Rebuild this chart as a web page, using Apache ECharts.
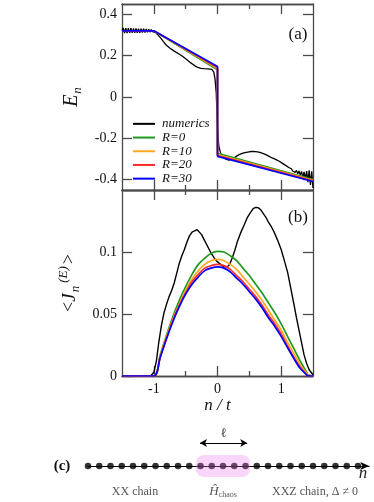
<!DOCTYPE html>
<html>
<head>
<meta charset="utf-8">
<script src="https://cdn.jsdelivr.net/npm/echarts@6/dist/echarts.min.js"></script>
<style>
  html, body { margin: 0; padding: 0; background: #fff; }
  #chart { width: 374px; height: 502px; }
</style>
</head>
<body>
<div id="chart"></div>
<script>
  // (a) energy profile E_n, numerics
  var xNumA = [-1.5, -1.48, -1.46, -1.44, -1.42, -1.4, -1.38, -1.36, -1.34, -1.32, -1.3, -1.28, -1.26,
    -1.24, -1.22, -1.2, -1.18, -1.16, -1.14, -1.12, -1.1, -1.08, -1.06, -1.04, -1.02, -1.0,
    -0.97, -0.93, -0.89, -0.85, -0.81, -0.75, -0.68, -0.61, -0.55, -0.48, -0.42, -0.36, -0.31,
    -0.26, -0.21, -0.18, -0.15, -0.12, -0.09, -0.06, -0.04, -0.02, 0.0, 0.02, 0.04, 0.06, 0.08,
    0.1, 0.12, 0.14, 0.16, 0.18, 0.21, 0.26, 0.3, 0.34, 0.4, 0.45, 0.5, 0.55, 0.6, 0.65, 0.7,
    0.76, 0.81, 0.86, 0.92, 0.97, 1.02, 1.07, 1.12, 1.16, 1.18, 1.2, 1.22, 1.24, 1.26, 1.28,
    1.3, 1.32, 1.34, 1.36, 1.38, 1.4, 1.42, 1.44, 1.46, 1.48, 1.5]
  var eNum = [0.322, 0.334, 0.309, 0.333, 0.309, 0.333, 0.31, 0.333, 0.31, 0.332, 0.31, 0.332, 0.311,
    0.331, 0.311, 0.331, 0.312, 0.33, 0.312, 0.329, 0.313, 0.328, 0.314, 0.326, 0.316, 0.32,
    0.312, 0.298, 0.285, 0.268, 0.253, 0.237, 0.222, 0.209, 0.197, 0.18, 0.165, 0.152, 0.143,
    0.139, 0.137, 0.14, 0.136, 0.141, 0.134, 0.122, 0.09, 0.02, -0.15, -0.235, -0.262, -0.28, -0.288,
    -0.295, -0.29, -0.302, -0.296, -0.305, -0.298, -0.295, -0.286, -0.279, -0.272, -0.268, -0.265,
    -0.263, -0.264, -0.267, -0.272, -0.279, -0.287, -0.295, -0.303, -0.311, -0.321, -0.331, -0.341,
    -0.347, -0.358, -0.35, -0.365, -0.355, -0.372, -0.358, -0.378, -0.36, -0.388, -0.362, -0.398,
    -0.358, -0.412, -0.355, -0.425, -0.36, -0.44]

  // (a) model curves
  var xModelA = [-1.5, -1.0, 0.0, 0.0, 1.5]
  var eR0 = [0.32, 0.32, 0.132, -0.272, -0.4]
  var eR10 = [0.32, 0.32, 0.138, -0.278, -0.403]
  var eR20 = [0.32, 0.32, 0.143, -0.283, -0.406]
  var eR30 = [0.32, 0.32, 0.148, -0.287, -0.409]

  // (b) energy current <J_n^(E)>, numerics
  var xNumB = [-1.5, -1.05, -1.0, -0.96, -0.92, -0.88, -0.84, -0.8, -0.76, -0.72, -0.68, -0.64, -0.6,
    -0.56, -0.52, -0.48, -0.44, -0.4, -0.36, -0.32, -0.29, -0.25, -0.2, -0.15, -0.1, -0.05, 0.0,
    0.05, 0.1, 0.15, 0.19, 0.23, 0.27, 0.31, 0.36, 0.42, 0.47, 0.52, 0.56, 0.6, 0.64, 0.68, 0.72,
    0.76, 0.8, 0.85, 0.89, 0.94, 1.0, 1.05, 1.1, 1.15, 1.2, 1.24, 1.28, 1.32, 1.36, 1.4, 1.44, 1.47, 1.5]
  var jNum = [0, 0, 0.003, 0.012, 0.028, 0.041, 0.051, 0.058, 0.064, 0.069, 0.075, 0.083, 0.091,
    0.097, 0.102, 0.108, 0.113, 0.116, 0.117, 0.118, 0.117, 0.114, 0.109, 0.104, 0.099, 0.095, 0.092,
    0.09, 0.088, 0.088, 0.09, 0.095, 0.101, 0.108, 0.115, 0.122, 0.128, 0.132, 0.135, 0.136, 0.1357, 0.134, 0.131,
    0.128, 0.124, 0.12, 0.116, 0.11, 0.102, 0.093, 0.084, 0.071, 0.058, 0.047, 0.037, 0.027, 0.017, 0.01, 0.005, 0.003, 0.001]

  // (b) model curves
  var xModelB = [-1.5, -1.0, -0.9, -0.8, -0.7, -0.6, -0.5, -0.4, -0.3, -0.2, -0.1, 0.0, 0.1, 0.2,
    0.3, 0.4, 0.5, 0.6, 0.7, 0.8, 0.9, 1.0, 1.1, 1.2, 1.3, 1.4, 1.42, 1.5]
  var jR0 = [0, 0, 0.017, 0.033, 0.048, 0.061, 0.072, 0.082, 0.09, 0.095, 0.099, 0.1005, 0.1, 0.097,
    0.093, 0.087, 0.081, 0.074, 0.067, 0.059, 0.051, 0.042, 0.032, 0.022, 0.012, 0.003, 0.001, 0]
  var jR10 = [0, 0, 0.016, 0.032, 0.046, 0.058, 0.069, 0.078, 0.085, 0.09, 0.093, 0.094, 0.093, 0.09,
    0.086, 0.08, 0.074, 0.068, 0.061, 0.053, 0.045, 0.037, 0.027, 0.018, 0.009, 0.002, 0.0005, 0]
  var jR20 = [0, 0, 0.015, 0.031, 0.045, 0.057, 0.067, 0.076, 0.082, 0.087, 0.089, 0.09, 0.089, 0.086,
    0.081, 0.076, 0.07, 0.064, 0.057, 0.049, 0.042, 0.034, 0.024, 0.015, 0.007, 0.001, 0, 0]
  var jR30 = [0, 0, 0.015, 0.03, 0.044, 0.056, 0.066, 0.074, 0.08, 0.085, 0.087, 0.088, 0.087, 0.084,
    0.079, 0.074, 0.068, 0.062, 0.055, 0.047, 0.04, 0.032, 0.023, 0.014, 0.006, 0.001, 0, 0]

  var seriesNames = ['numerics', 'R=0', 'R=10', 'R=20', 'R=30']
  var seriesColors = ['#000000', '#1f9a1f', '#ffa820', '#ff2a2a', '#0000ff']

  // ticks
  var xTicksMajor = [-1, 0, 1]
  var xTicksMinor = [-0.5, 0.5]
  var yTicksA = [-0.4, -0.2, 0, 0.2, 0.4]
  var yTicksB = [0, 0.05, 0.1]

  // (c) chain sketch: site index, chaotic block, arrow for l
  var sites = [0, 1, 2, 3, 4, 5, 6, 7, 8, 9, 10, 11, 12, 13, 14, 15, 16, 17, 18, 19, 20, 21, 22, 23, 24]
  var chaosBlock = [9.6, 14.4]
  var ellSpan = [9.95, 14.15]

  var serif = 'Liberation Serif'
  var frame = '#4a4a4a'

  function zip (xs, ys) {
    return xs.map(function (x, i) { return [x, ys[i]] })
  }

  function xAxisFor (grid, pos, ticks, len, label) {
    return {
      type: 'value', gridIndex: grid, position: pos, min: -1.5, max: 1.5,
      axisLine: { show: true, onZero: false, lineStyle: { color: frame, width: 1.3 } },
      axisTick: { show: true, inside: true, length: len, customValues: ticks, lineStyle: { color: frame, width: 1.3 } },
      axisLabel: label ? {
        show: true, customValues: ticks, margin: 6, color: '#111',
        fontFamily: serif, fontSize: 14
      } : { show: false },
      splitLine: { show: false }
    }
  }

  function yAxisFor (grid, pos, min, max, ticks, label, fmt) {
    return {
      type: 'value', gridIndex: grid, position: pos, min: min, max: max,
      axisLine: { show: true, onZero: false, lineStyle: { color: frame, width: 1.3 } },
      axisTick: { show: true, inside: true, length: 10, customValues: ticks, lineStyle: { color: frame, width: 1.3 } },
      axisLabel: label ? {
        show: true, customValues: ticks, margin: 5, color: '#111',
        fontFamily: serif, fontSize: 14, formatter: fmt
      } : { show: false },
      splitLine: { show: false }
    }
  }

  var chart = echarts.init(document.getElementById('chart'))

  var xAxes = [
    xAxisFor(0, 'bottom', xTicksMajor, 10, false),
    xAxisFor(0, 'bottom', xTicksMinor, 5, false),
    xAxisFor(0, 'top', xTicksMajor, 10, false),
    xAxisFor(0, 'top', xTicksMinor, 5, false),
    xAxisFor(1, 'bottom', xTicksMajor, 10, true),
    xAxisFor(1, 'bottom', xTicksMinor, 5, false),
    xAxisFor(1, 'top', xTicksMajor, 10, false),
    xAxisFor(1, 'top', xTicksMinor, 5, false),
    {
      type: 'value', gridIndex: 2, min: 0, max: 25,
      axisLine: { show: true, onZero: true, symbol: ['none', 'arrow'], symbolSize: [6, 9], lineStyle: { color: '#000', width: 1 } },
      axisTick: { show: false }, axisLabel: { show: false }, splitLine: { show: false }
    }
  ]
  xAxes[4].name = 'n / t'
  xAxes[4].nameLocation = 'middle'
  xAxes[4].nameGap = 21
  xAxes[4].nameTextStyle = { fontFamily: serif, fontStyle: 'italic', fontSize: 17, color: '#111' }

  var fmtA = function (v) { return v === 0 ? '0' : String(v) }
  var fmtB = function (v) { return v === 0 ? '0' : String(v) }

  var yAxes = [
    yAxisFor(0, 'left', -0.45, 0.45, yTicksA, true, fmtA),
    yAxisFor(0, 'right', -0.45, 0.45, yTicksA, false),
    yAxisFor(1, 'left', 0, 0.15, yTicksB, true, fmtB),
    yAxisFor(1, 'right', 0, 0.15, yTicksB, false),
    { type: 'value', gridIndex: 2, min: -1, max: 3, show: false }
  ]
  yAxes[0].name = '{i|E}{s|n}'
  yAxes[0].nameLocation = 'middle'
  yAxes[0].nameGap = 25
  yAxes[0].nameRotate = 90
  yAxes[0].nameTextStyle = {
    rich: {
      i: { fontFamily: serif, fontStyle: 'italic', fontSize: 20, color: '#111' },
      s: { fontFamily: serif, fontStyle: 'italic', fontSize: 13, color: '#111', padding: [11, 0, 0, 1] }
    }
  }
  yAxes[2].name = '{t|<}{i|J}{s|n}{p|(E)}{t|>}'
  yAxes[2].nameLocation = 'middle'
  yAxes[2].nameGap = 31
  yAxes[2].nameRotate = 90
  yAxes[2].nameTextStyle = {
    rich: {
      t: { fontFamily: serif, fontSize: 18, color: '#111' },
      i: { fontFamily: serif, fontStyle: 'italic', fontSize: 19, color: '#111' },
      s: { fontFamily: serif, fontStyle: 'italic', fontSize: 13, color: '#111', padding: [11, 0, 0, 1] },
      p: { fontFamily: serif, fontStyle: 'italic', fontSize: 13, color: '#111', padding: [0, 2, 12, 3] }
    }
  }

  var dataA = [eNum, eR0, eR10, eR20, eR30]
  var dataB = [jNum, jR0, jR10, jR20, jR30]
  var series = []
  seriesNames.forEach(function (name, k) {
    series.push({
      name: name, type: 'line', xAxisIndex: 0, yAxisIndex: 0,
      data: zip(k === 0 ? xNumA : xModelA, dataA[k]),
      symbol: 'none', animation: false,
      lineStyle: { color: seriesColors[k], width: k === 0 ? 1.3 : 1.7 },
      itemStyle: { color: seriesColors[k] }
    })
  })
  seriesNames.forEach(function (name, k) {
    series.push({
      name: name, type: 'line', xAxisIndex: 4, yAxisIndex: 2,
      data: zip(k === 0 ? xNumB : xModelB, dataB[k]),
      symbol: 'none', animation: false, smooth: k === 0 ? false : 0.3,
      lineStyle: { color: seriesColors[k], width: k === 0 ? 1.4 : 1.7 },
      itemStyle: { color: seriesColors[k] }
    })
  })

  // (c) chain
  series.push({
    type: 'scatter', xAxisIndex: 8, yAxisIndex: 4, animation: false,
    data: sites.map(function (s) { return [s, 0] }),
    symbolSize: 6.5, itemStyle: { color: '#000' },
    markLine: {
      silent: true, symbol: ['arrow', 'arrow'], symbolSize: [6, 7],
      lineStyle: { color: '#000', width: 1, type: 'solid' },
      label: { show: true, position: 'insideMiddleTop', distance: 3, formatter: 'ℓ', fontFamily: serif, fontSize: 13, color: '#333' },
      data: [[{ coord: [ellSpan[0], 2.1] }, { coord: [ellSpan[1], 2.1] }]]
    }
  })
  series.push({
    type: 'custom', xAxisIndex: 8, yAxisIndex: 4, animation: false, z: 5,
    data: [[chaosBlock[0], chaosBlock[1]]],
    renderItem: function (params, api) {
      var p0 = api.coord([api.value(0), 1])
      var p1 = api.coord([api.value(1), -1])
      return {
        type: 'rect',
        shape: { x: p0[0], y: p0[1], width: p1[0] - p0[0], height: p1[1] - p0[1], r: 8 },
        style: { fill: 'rgba(235,120,235,0.3)' }
      }
    }
  })

  chart.setOption({
    backgroundColor: '#fff',
    animation: false,
    grid: [
      { left: 122, top: 4, width: 191, height: 186 },
      { left: 122, top: 190, width: 191, height: 186 },
      { left: 88, top: 433, width: 281.25, height: 44 }
    ],
    xAxis: xAxes,
    yAxis: yAxes,
    legend: {
      data: seriesNames, orient: 'vertical', left: 128, top: 112,
      icon: 'rect', itemWidth: 22, itemHeight: 2, itemGap: 0, selectedMode: false,
      textStyle: { fontFamily: serif, fontStyle: 'italic', fontSize: 13, color: '#111', lineHeight: 13.7, padding: [0, 0, 0, 2] }
    },
    graphic: [
      { type: 'text', x: 298, y: 35, style: { text: '(a)', fontFamily: serif, fontSize: 17, fill: '#111', align: 'center', verticalAlign: 'middle' } },
      { type: 'text', x: 298, y: 218, style: { text: '(b)', fontFamily: serif, fontSize: 17, fill: '#111', align: 'center', verticalAlign: 'middle' } },
      { type: 'text', x: 62, y: 466, style: { text: '(c)', fontFamily: serif, fontWeight: 'bold', fontSize: 15, fill: '#111', align: 'center', verticalAlign: 'middle' } },
      { type: 'text', x: 363, y: 474, style: { text: 'n', fontFamily: serif, fontStyle: 'italic', fontSize: 17, fill: '#222', align: 'center', verticalAlign: 'middle' } },
      { type: 'text', x: 135, y: 492, style: { text: 'XX chain', fontFamily: serif, fontSize: 12, fill: '#555', align: 'center', verticalAlign: 'middle' } },
      { type: 'text', x: 223, y: 492, style: {
        text: '{h|Ĥ}{c|chaos}', align: 'center', verticalAlign: 'middle',
        rich: {
          h: { fontFamily: serif, fontStyle: 'italic', fontSize: 13, fill: '#555' },
          c: { fontFamily: serif, fontSize: 8, fill: '#555', padding: [6, 0, 0, 0] }
        }
      } },
      { type: 'text', x: 315, y: 492, style: { text: 'XXZ chain, Δ ≠ 0', fontFamily: serif, fontSize: 12, fill: '#555', align: 'center', verticalAlign: 'middle' } }
    ],
    series: series
  })
</script>
</body>
</html>
